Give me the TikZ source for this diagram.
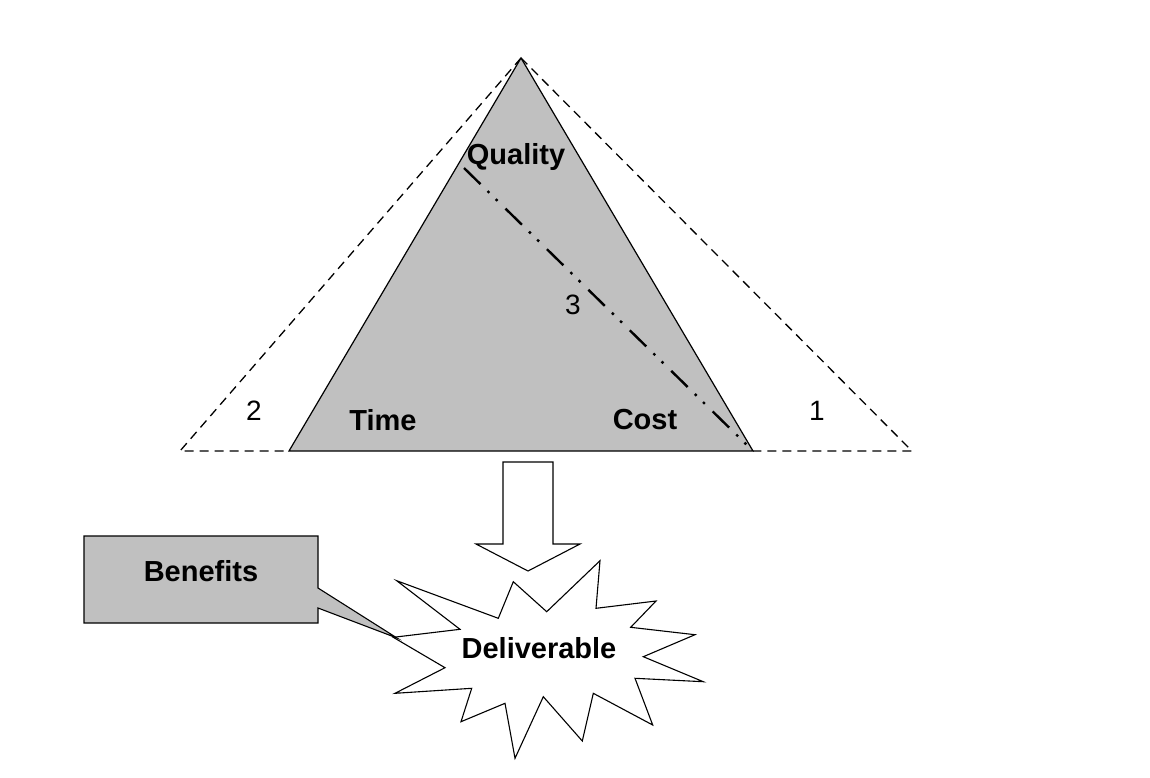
\documentclass[tikz,border=0pt]{standalone}
\usepackage{fontspec}
\setmainfont{Liberation Sans}
\begin{document}
\begin{tikzpicture}[x=1pt,y=-1pt,
  lbl/.style={font=\fontsize{29}{31}\selectfont\bfseries, inner sep=0pt},
  num/.style={font=\fontsize{28}{30}\selectfont, inner sep=0pt},
  outl/.style={draw=black, line width=1.2pt, line join=miter},
  dashedline/.style={draw=black, line width=1.3pt, dash pattern=on 9pt off 6pt}]
\useasboundingbox (0,0) rectangle (1150,777);
\definecolor{tgray}{HTML}{C0C0C0}
% key points
\coordinate (apex) at (521,58);
\coordinate (bl) at (289,451);
\coordinate (br) at (753,451);
\coordinate (obl) at (180,451);
\coordinate (obr) at (912,451);
\coordinate (q) at (464,168);
\coordinate (c) at (750,448);
% outer dashed triangles
\draw[dashedline] (apex) -- (obl) -- (bl);
\draw[dashedline] (apex) -- (obr) -- (br);
% main triangle
\filldraw[outl, fill=tgray] (apex) -- (bl) -- (br) -- cycle;
% dash-dot-dot line
\draw[line width=2.4pt, dash pattern=on 23pt off 10pt on 2.5pt off 9pt on 2.5pt off 11pt] (q) -- (c);
% labels
\node[lbl] (quality) at (516,157) {Quality};
\node[lbl] (time) at (383,420) {Time};
\node[lbl] (cost) at (645,420) {Cost};
\node[num] (n2) at (254,411) {2};
\node[num] (n1) at (817,411) {1};
\node[num] (n3) at (573,305) {3};
% block arrow
\filldraw[outl, fill=white, line width=1.1pt] (503,462) -- (553,462) -- (553,544) -- (580,544) -- (528,571) -- (476,544) -- (503,544) -- cycle;
% starburst
\filldraw[outl, fill=white, line width=1.1pt]
 (396.7,580.7) -- (498.3,618.3) -- (513.3,581.7) -- (546.7,611.7) -- (600,560.7) -- (596,608.3)
 -- (656,601) -- (630.7,627.3) -- (695,634.7) -- (643.3,656.7) -- (703.3,681.7) -- (635,678.3)
 -- (652.7,725) -- (593.3,693.3) -- (582.3,741) -- (543.3,696.7) -- (515,758.3) -- (505,703.3)
 -- (461,721.7) -- (471.7,688.3) -- (395,693.3) -- (445,667.7) -- (393.3,637.3) -- (460,629.3) -- cycle;
\node[lbl] (deliv) at (539,648) {Deliverable};
% callout
\filldraw[outl, fill=tgray, line width=1.1pt] (84,536) -- (318,536) -- (318,588) -- (397,638) -- (318,608) -- (318,623) -- (84,623) -- cycle;
\node[lbl] (benefits) at (201,571) {Benefits};
\end{tikzpicture}
\end{document}
